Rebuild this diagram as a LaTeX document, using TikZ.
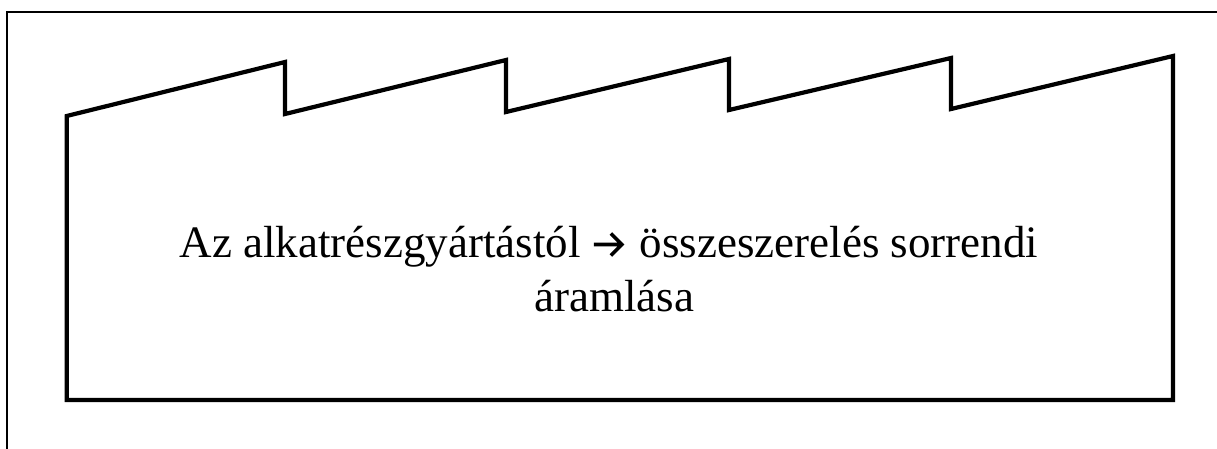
\documentclass[tikz,border=0pt]{standalone}
\usepackage{fontspec}
\setmainfont{Liberation Serif}
\newcommand{\thickrarrow}{\tikz[baseline=0pt,x=1pt,y=1pt]{\draw[line width=3.6pt,line cap=butt,line join=miter] (0,12.5) -- (28,12.5) (17,1.5) -- (28,12.5) -- (17,23.5);}}
\begin{document}
\begin{tikzpicture}[x=1pt,y=-1pt,
  factory/.style={draw=black,line width=4.2pt,line join=miter},
  frame/.style={draw=black,line width=1.8pt},
  label/.style={anchor=base,inner sep=0pt,font=\fontsize{45}{52}\selectfont}]
\useasboundingbox (0,0) rectangle (1217,448);
\begin{scope}
\clip (0,0) rectangle (1217,448);
\draw[frame] (7,470) -- (7,11.7) -- (1240,11.7);
\end{scope}
\draw[factory] (66.7,400) -- (66.7,116) -- (285,62) -- (285,114) -- (506,60) -- (506,112)
  -- (729,59) -- (729,110) -- (951,58) -- (951,109) -- (1173,56) -- (1173,400) -- cycle;
\node[label] (l1) at (609,257) {Az alkatrészgyártástól \thickrarrow\hspace{16pt}összeszerelés sorrendi};
\node[label] (l2) at (614,311) {áramlása};
\end{tikzpicture}
\end{document}
